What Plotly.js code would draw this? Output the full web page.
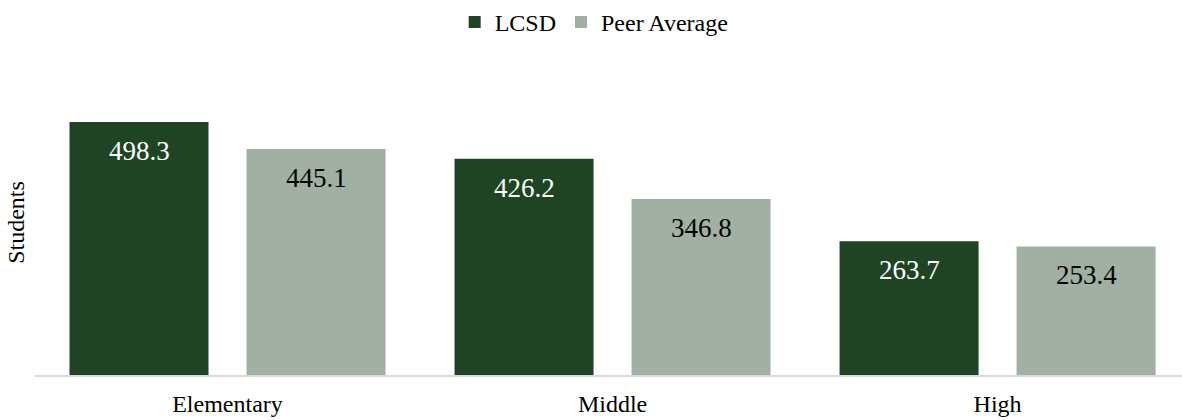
<!DOCTYPE html>
<html>
<head>
<meta charset="utf-8">
<script src="https://cdn.plot.ly/plotly-3.0.1.min.js"></script>
<style>
  html, body { margin: 0; padding: 0; background: #fff; }
  #chart { width: 1182px; height: 420px; }
</style>
</head>
<body>
<div id="chart"></div>
<script>
// Students per school level: district vs. peer average
const levels = ['Elementary', 'Middle', 'High'];
const lcsdValues = [498.3, 426.2, 263.7];
const peerValues = [445.1, 346.8, 253.4];
const seriesNames = ['LCSD', 'Peer Average'];

const FONT = 'Liberation Serif, Times New Roman, serif';
const DARK = '#1f4423';
const LIGHT = '#a1b0a2';

const traces = [
  {
    type: 'bar', name: seriesNames[0], x: levels, y: lcsdValues,
    marker: { color: DARK }, hoverinfo: 'x+y'
  },
  {
    type: 'bar', name: seriesNames[1], x: levels, y: peerValues,
    marker: { color: LIGHT }, hoverinfo: 'x+y'
  }
];

// Value labels sit inside each bar, near its top
const annotations = [];
const offsets = [-88.5, 88.5];
[lcsdValues, peerValues].forEach((vals, s) => {
  vals.forEach((v, i) => {
    annotations.push({
      x: levels[i], y: v, xref: 'x', yref: 'y',
      xshift: offsets[s], yshift: -29,
      text: v.toFixed(1), showarrow: false,
      xanchor: 'center', yanchor: 'middle',
      font: { family: FONT, size: 27, color: s === 0 ? '#ffffff' : '#000000' }
    });
  });
});

const layout = {
  width: 1182, height: 420,
  margin: { l: 35, r: 0, t: 70, b: 45 },
  paper_bgcolor: '#ffffff', plot_bgcolor: '#ffffff',
  font: { family: FONT, size: 24, color: '#000000' },
  barmode: 'group', bargap: 0.0805, bargroupgap: 0.2147,
  showlegend: true,
  legend: {
    orientation: 'h', x: 0.4875, xanchor: 'center', y: 1.0, yref: 'container',
    yanchor: 'top', font: { family: FONT, size: 24 }, traceorder: 'normal'
  },
  xaxis: {
    type: 'category', range: [-0.5, 2.479],
    showline: true, linecolor: '#d9d9d9', linewidth: 2,
    ticks: '', showgrid: false, zeroline: false,
    tickfont: { family: FONT, size: 24 }, ticklabelstandoff: 6
  },
  yaxis: {
    range: [0, 601], showticklabels: false, showgrid: false, zeroline: false,
    showline: false, ticks: '',
    title: { text: 'Students', font: { family: FONT, size: 24 }, standoff: 2 }
  },
  annotations: annotations
};

Plotly.newPlot('chart', traces, layout, { displayModeBar: false, staticPlot: true });
</script>
</body>
</html>
